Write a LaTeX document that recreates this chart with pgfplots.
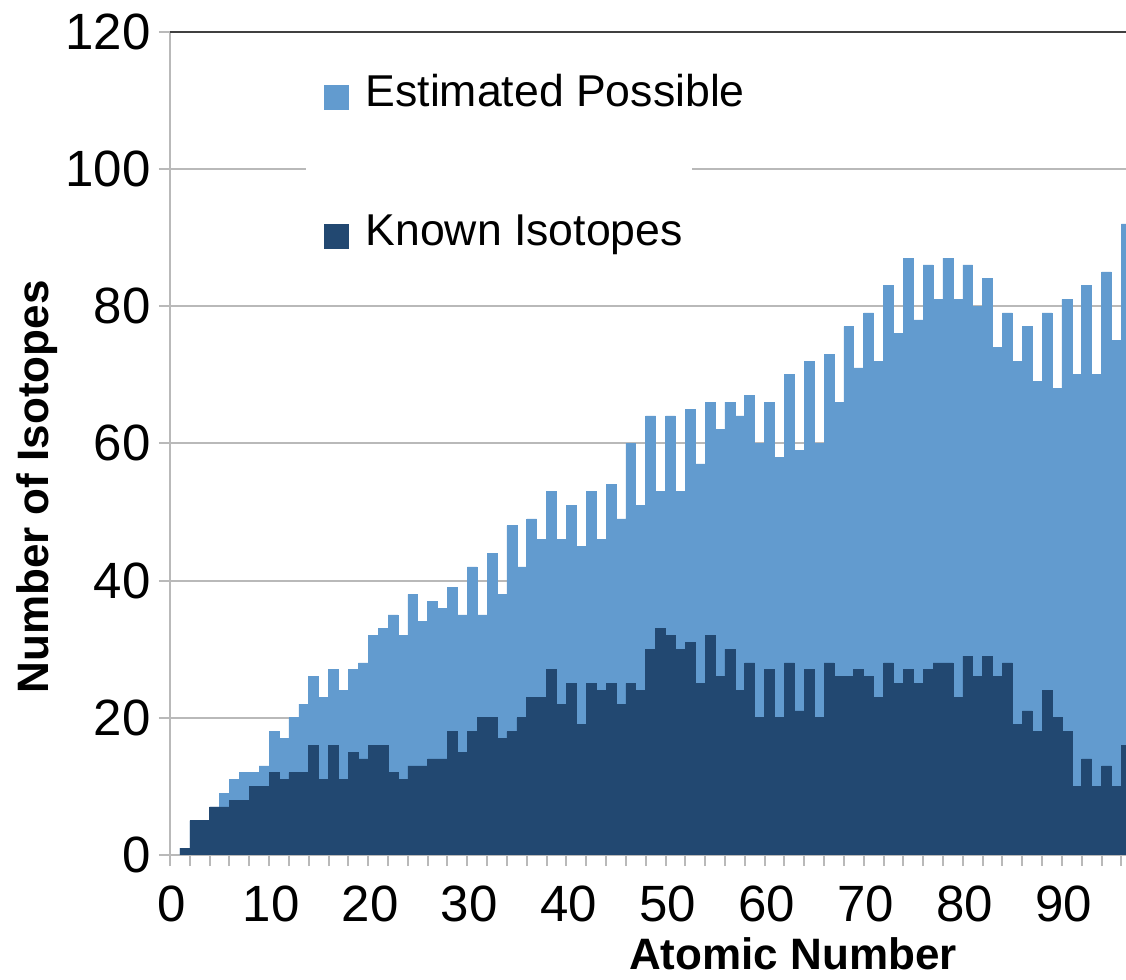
\documentclass[border=0pt]{standalone}
\usepackage{pgfplots}
\pgfplotsset{compat=1.18}
\usepackage{pgfplotstable}
\usepackage{fontspec}
\setmainfont{Liberation Sans}

\definecolor{estblue}{RGB}{98,155,207}
\definecolor{knownblue}{RGB}{34,72,113}
\definecolor{gridgray}{RGB}{185,185,185}

% atomic number, estimated possible isotopes, known isotopes
\pgfplotstableread{
Z est known
1 1 1
2 5 5
3 5 5
4 7 7
5 9 7
6 11 8
7 12 8
8 12 10
9 13 10
10 18 12
11 17 11
12 20 12
13 22 12
14 26 16
15 23 11
16 27 16
17 24 11
18 27 15
19 28 14
20 32 16
21 33 16
22 35 12
23 32 11
24 38 13
25 34 13
26 37 14
27 36 14
28 39 18
29 35 15
30 42 18
31 35 20
32 44 20
33 38 17
34 48 18
35 42 20
36 49 23
37 46 23
38 53 27
39 46 22
40 51 25
41 45 19
42 53 25
43 46 24
44 54 25
45 49 22
46 60 25
47 51 24
48 64 30
49 53 33
50 64 32
51 53 30
52 65 31
53 57 25
54 66 32
55 62 26
56 66 30
57 64 24
58 67 28
59 60 20
60 66 27
61 58 20
62 70 28
63 59 21
64 72 27
65 60 20
66 73 28
67 66 26
68 77 26
69 71 27
70 79 26
71 72 23
72 83 28
73 76 25
74 87 27
75 78 25
76 86 27
77 81 28
78 87 28
79 81 23
80 86 29
81 80 26
82 84 29
83 74 26
84 79 28
85 72 19
86 77 21
87 69 18
88 79 24
89 68 20
90 81 18
91 70 10
92 83 14
93 70 10
94 85 13
95 75 10
96 92 16
}\isotopes

\begin{document}
\begin{tikzpicture}
\useasboundingbox (-85pt,-62.5pt) rectangle (478pt,427.5pt);
\begin{axis}[
    scale only axis,
    width=485.6pt, height=411.65pt,
    xmin=-0.5, xmax=97.5,
    ymin=0, ymax=120,
    axis lines*=left,
    axis line style={gridgray, line width=1pt},
    ymajorgrids,
    grid style={gridgray, line width=1pt},
    tick style={gridgray, line width=1pt},
    tick align=outside,
    major tick length=5.5pt,
    ytick={0,20,...,100},
    extra y ticks={120},
    extra y tick style={grid style={black!75, line width=1pt}},
    xtick={-0.5,1.5,...,97.5},
    xticklabels={},
    extra x ticks={-0.3,9.7,19.7,29.7,39.7,49.7,59.7,69.7,79.7,89.7},
    extra x tick labels={0,10,20,30,40,50,60,70,80,90},
    extra x tick style={major tick length=0pt},
    /pgf/number format/assume math mode=true,
    ticklabel style={font=\fontsize{25.5}{30}\selectfont, inner sep=0pt},
    xticklabel style={anchor=base, yshift=-33.4pt},
    yticklabel style={anchor=east, xshift=-4pt},
    xlabel={Atomic Number},
    xlabel style={at={([yshift=-57pt]rel axis cs:0.6415,0)}, anchor=base,
        inner sep=0pt, font=\fontsize{22}{26}\selectfont\bfseries},
    ylabel={Number of Isotopes},
    ylabel style={at={([xshift=-66.5pt]rel axis cs:0,0.447)}, anchor=center,
        font=\fontsize{22}{26}\selectfont\bfseries},
    legend cell align=left,
    legend style={at={(axis cs:15.04,113.74)}, anchor=north west,
        draw=none, fill=none, inner sep=0pt, outer sep=0pt,
        row sep=53pt, column sep=8.5pt,
        font=\fontsize{22.3}{26}\selectfont,
        nodes={inner sep=0pt, text depth=0pt}},
    legend image code/.code={\fill[#1] (0pt,-9pt) rectangle (12pt,3pt);},
]
\addplot[ybar, bar width=1, bar shift=0pt, fill=estblue, draw=estblue, line width=0.3pt]
    table[x=Z, y=est] {\isotopes};
\addplot[ybar, bar width=1, bar shift=0pt, fill=knownblue, draw=knownblue, line width=0.3pt]
    table[x=Z, y=known] {\isotopes};
\fill[white] (axis cs:13.22,99.2) rectangle (axis cs:52.17,100.8);
\legend{Estimated Possible, Known Isotopes}
\end{axis}
\end{tikzpicture}
\end{document}
